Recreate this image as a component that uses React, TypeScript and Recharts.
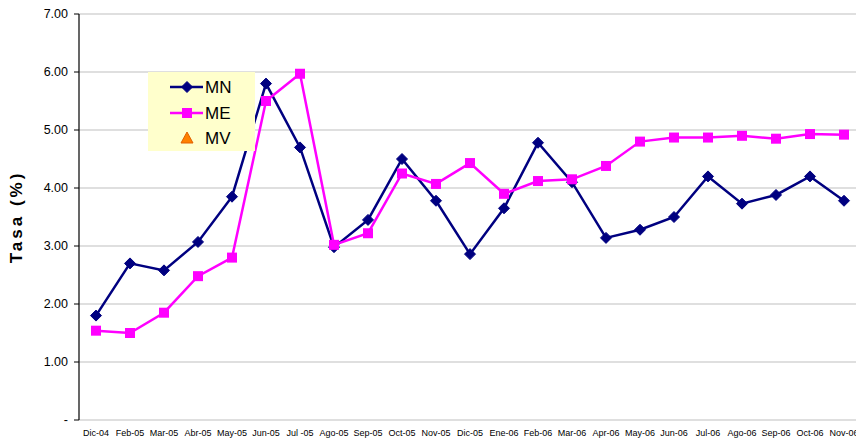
import React from "react";
import { CartesianGrid, Line, LineChart, XAxis, YAxis } from "recharts";

const months = [
    "Dic-04", "Feb-05", "Mar-05", "Abr-05", "May-05", "Jun-05", "Jul -05", "Ago-05",
    "Sep-05", "Oct-05", "Nov-05", "Dic-05", "Ene-06", "Feb-06", "Mar-06", "Apr-06",
    "May-06", "Jun-06", "Jul-06", "Ago-06", "Sep-06", "Oct-06", "Nov-06",
];

const mnValues = [
    1.8, 2.7, 2.58, 3.07, 3.85, 5.8, 4.7, 2.98, 3.45, 4.5, 3.78, 2.86,
    3.65, 4.78, 4.1, 3.14, 3.28, 3.5, 4.2, 3.73, 3.88, 4.2, 3.78,
];

const meValues = [
    1.54, 1.5, 1.85, 2.48, 2.8, 5.5, 5.97, 3.02, 3.22, 4.25, 4.07, 4.43,
    3.9, 4.12, 4.15, 4.38, 4.8, 4.87, 4.87, 4.9, 4.85, 4.93, 4.92,
];

const yTicks = [0, 1, 2, 3, 4, 5, 6, 7];

const COLORS = {
    mn: "#000080",
    me: "#FF00FF",
    mv: "#FF8000",
    grid: "#D4D4D4",
    legendBg: "#FFFFCC",
};

const FONT = "'Liberation Sans', Arial, sans-serif";

const data = months.map((m, i) => ({ i, month: m, mn: mnValues[i], me: meValues[i], mv: null }));
const labelTicks = months.map((_, i) => i);
const boundaryTicks = Array.from({ length: months.length + 1 }, (_, i) => i - 0.5);

function Diamond(props: any) {
    const { cx, cy } = props;
    if (cx == null || cy == null) return null;
    const r = 5.5;
    return (
        <path
            d={`M${cx},${cy - r}L${cx + r},${cy}L${cx},${cy + r}L${cx - r},${cy}Z`}
            fill={COLORS.mn}
            stroke={COLORS.mn}
        />
    );
}

function Square(props: any) {
    const { cx, cy } = props;
    if (cx == null || cy == null) return null;
    const s = 5;
    return <rect x={cx - s} y={cy - s} width={s * 2} height={s * 2} fill={COLORS.me} />;
}

function LegendBox() {
    const row = (y: number, kind: string, text: string) => (
        <g key={text}>
            {kind !== "mv" && (
                <line x1={22} x2={55} y1={y} y2={y} stroke={kind === "mn" ? COLORS.mn : COLORS.me} strokeWidth={2.5} />
            )}
            {kind === "mn" && <Diamond cx={39} cy={y} />}
            {kind === "me" && <Square cx={39} cy={y} />}
            {kind === "mv" && (
                <path d={`M39,${y - 6}L45,${y + 5}L33,${y + 5}Z`} fill={COLORS.mv} stroke="#E06000" />
            )}
            <text x={57} y={y + 6} fontFamily={FONT} fontSize={17} fill="#000">
                {text}
            </text>
        </g>
    );
    return (
        <svg width={107} height={79} style={{ display: "block" }}>
            <rect width={107} height={79} fill={COLORS.legendBg} />
            {row(15, "mn", "MN")}
            {row(41, "me", "ME")}
            {row(66, "mv", "MV")}
        </svg>
    );
}

export default function App() {
    return (
        <div style={{ position: "absolute", left: 0, top: 0, width: 856, height: 443, overflow: "hidden", background: "#fff" }}>
            <LineChart width={862} height={443} data={data} margin={{ top: 14, right: 1, bottom: 0, left: 0 }}>
                <CartesianGrid horizontal vertical={false} stroke={COLORS.grid} strokeWidth={1.5} />
                <XAxis
                    xAxisId="lab"
                    dataKey="i"
                    type="number"
                    domain={[-0.5, months.length - 0.5]}
                    ticks={labelTicks}
                    tickFormatter={(v: number) => months[v]}
                    interval={0}
                    tickLine={false}
                    axisLine={false}
                    height={23}
                    tick={{ fontSize: 9, fontFamily: FONT, fill: "#000" }}
                    tickMargin={4}
                />
                <XAxis
                    xAxisId="bnd"
                    dataKey="i"
                    type="number"
                    domain={[-0.5, months.length - 0.5]}
                    ticks={boundaryTicks}
                    tickFormatter={() => ""}
                    interval={0}
                    tickLine={{ stroke: "#000" }}
                    tickSize={5}
                    axisLine={{ stroke: "#000", strokeWidth: 1.2 }}
                    height={0}
                />
                <YAxis
                    domain={[0, 7]}
                    ticks={yTicks}
                    interval={0}
                    width={79}
                    tickSize={5}
                    tickMargin={6}
                    tickFormatter={(v: number) => (v === 0 ? "-" : v.toFixed(2))}
                    tick={{ fontSize: 12.5, fontFamily: FONT, fill: "#000" }}
                    tickLine={{ stroke: "#000" }}
                    axisLine={{ stroke: "#000", strokeWidth: 1.2 }}
                    label={{
                        value: "Tasa (%)",
                        angle: -90,
                        position: "insideLeft",
                        offset: 16,
                        style: {
                            fontSize: 17,
                            fontWeight: "bold",
                            fontFamily: FONT,
                            fill: "#000",
                            textAnchor: "middle",
                            letterSpacing: 3,
                        },
                    }}
                />
                <Line
                    xAxisId="lab"
                    dataKey="mn"
                    name="MN"
                    stroke={COLORS.mn}
                    strokeWidth={2.5}
                    dot={<Diamond />}
                    activeDot={false}
                    isAnimationActive={false}
                />
                <Line
                    xAxisId="lab"
                    dataKey="me"
                    name="ME"
                    stroke={COLORS.me}
                    strokeWidth={2.5}
                    dot={<Square />}
                    activeDot={false}
                    isAnimationActive={false}
                />
                <Line
                    xAxisId="lab"
                    dataKey="mv"
                    name="MV"
                    stroke={COLORS.mv}
                    dot={false}
                    isAnimationActive={false}
                />
            </LineChart>
            <div style={{ position: "absolute", left: 148, top: 72 }}>
                <LegendBox />
            </div>
        </div>
    );
}
